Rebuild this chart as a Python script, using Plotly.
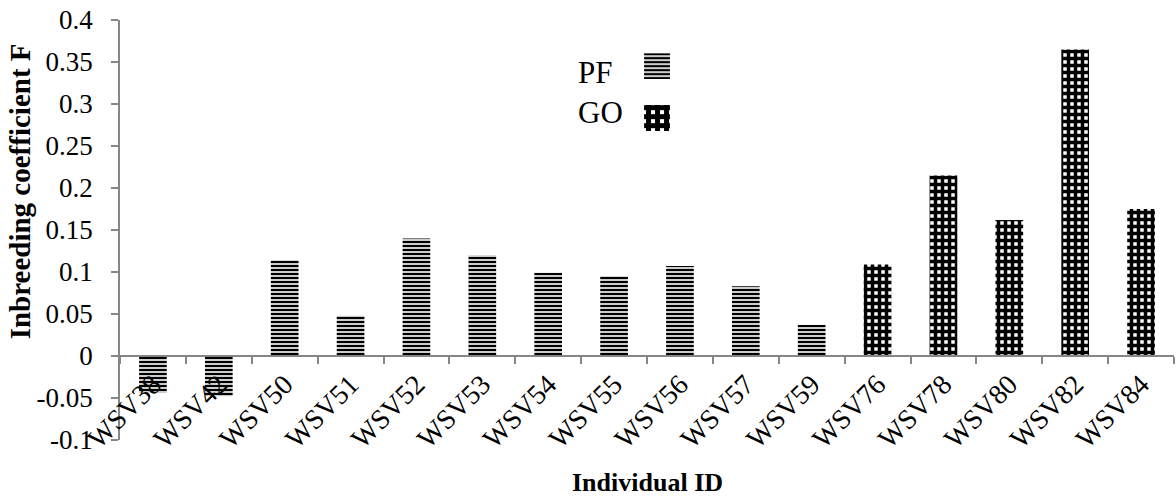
import plotly.graph_objects as go

# Inbreeding coefficient F per individual, split by population
pf_ids = ["WSV38", "WSV42", "WSV50", "WSV51", "WSV52", "WSV53",
          "WSV54", "WSV55", "WSV56", "WSV57", "WSV59"]
pf_f = [-0.044, -0.048, 0.114, 0.048, 0.140, 0.120,
        0.099, 0.095, 0.107, 0.083, 0.037]

go_ids = ["WSV76", "WSV78", "WSV80", "WSV82", "WSV84"]
go_f = [0.109, 0.215, 0.162, 0.365, 0.175]

groups = ["PF", "GO"]
y_ticks = [-0.1, -0.05, 0, 0.05, 0.1, 0.15, 0.2, 0.25, 0.3, 0.35, 0.4]
y_ticktext = ["-0.1", "-0.05", "0", "0.05", "0.1", "0.15", "0.2",
              "0.25", "0.3", "0.35", "0.4"]

SERIF = "Liberation Serif"
AXIS_GREY = "#868686"

stripes = dict(shape="-", size=4, solidity=0.6, fgcolor="black",
               bgcolor="white", fillmode="replace")
checks = dict(shape="+", size=7, solidity=0.75, fgcolor="black",
              bgcolor="white", fillmode="replace")

fig = go.Figure()

fig.add_trace(go.Bar(
    x=pf_ids, y=pf_f, name="PF",
    marker=dict(color="white", line=dict(width=0), pattern=stripes),
    showlegend=False,
))
fig.add_trace(go.Bar(
    x=go_ids, y=go_f, name="GO",
    marker=dict(color="white", line=dict(width=0), pattern=checks),
    showlegend=False,
))

# Key: one swatch per group on a small inset axis
fig.add_trace(go.Bar(
    y=[groups[0]], x=[1], orientation="h", width=0.5,
    xaxis="x2", yaxis="y2", showlegend=False, hoverinfo="skip",
    marker=dict(color="white", line=dict(width=0), pattern=stripes),
))
fig.add_trace(go.Bar(
    y=[groups[1]], x=[1], orientation="h", width=0.5,
    xaxis="x2", yaxis="y2", showlegend=False, hoverinfo="skip",
    marker=dict(color="white", line=dict(width=0),
                pattern=dict(checks, size=9, solidity=0.8)),
))

fig.update_layout(
    width=1176, height=499,
    margin=dict(l=120, r=2, t=20, b=59),
    paper_bgcolor="white", plot_bgcolor="white",
    bargap=0.58, barmode="overlay",
    font=dict(family=SERIF, size=26, color="black"),
    xaxis=dict(
        type="category",
        categoryorder="array", categoryarray=pf_ids + go_ids,
        anchor="free", position=0.2,
        showline=True, linecolor=AXIS_GREY, linewidth=1.5,
        ticks="outside", ticklen=7, tickcolor=AXIS_GREY, tickwidth=1.5,
        tickson="boundaries", tickangle=-45,
        tickfont=dict(family=SERIF, size=28, color="black"),
        showgrid=False, zeroline=False,
    ),
    yaxis=dict(
        range=[-0.1, 0.4],
        tickvals=y_ticks, ticktext=y_ticktext,
        showline=True, linecolor=AXIS_GREY, linewidth=1.5,
        ticks="outside", ticklen=7, tickcolor=AXIS_GREY, tickwidth=1.5,
        ticklabelstandoff=13,
        tickfont=dict(family=SERIF, size=27, color="black"),
        showgrid=False, zeroline=False,
    ),
    xaxis2=dict(domain=[0.4972, 0.5218], range=[0, 1], anchor="y2",
                visible=False, fixedrange=True),
    yaxis2=dict(domain=[0.705, 0.952], anchor="x2", type="category",
                categoryorder="array", categoryarray=groups,
                range=[1.5, -0.5], visible=False, fixedrange=True),
    annotations=[
        dict(text="PF", x=0.4326, y=0.876, xref="paper", yref="paper",
             xanchor="left", yanchor="middle", showarrow=False,
             font=dict(family=SERIF, size=31, color="black")),
        dict(text="GO", x=0.4326, y=0.779, xref="paper", yref="paper",
             xanchor="left", yanchor="middle", showarrow=False,
             font=dict(family=SERIF, size=31, color="black")),
        dict(text="<b>Inbreeding coefficient F</b>", textangle=-90,
             x=-0.0949, y=0.592, xref="paper", yref="paper",
             xanchor="center", yanchor="middle", showarrow=False,
             font=dict(family=SERIF, size=29, color="black")),
        dict(text="<b>Individual ID</b>",
             x=0.5, y=-0.1, xref="paper", yref="paper",
             xanchor="center", yanchor="middle", showarrow=False,
             font=dict(family=SERIF, size=26, color="black")),
    ],
)

fig.write_html("out.html")
